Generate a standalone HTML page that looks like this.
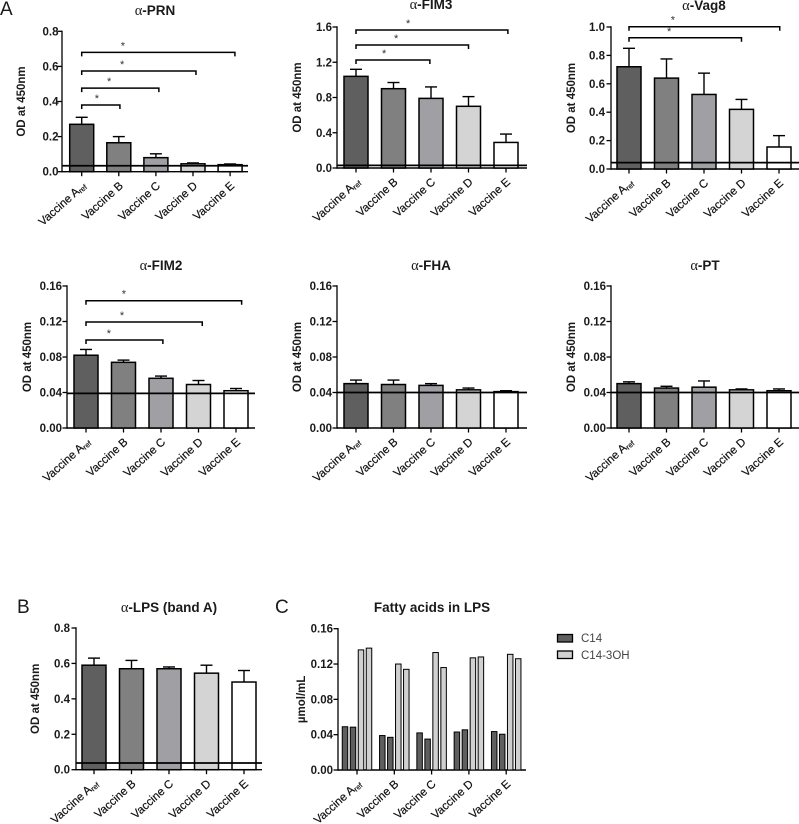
<!DOCTYPE html>
<html lang="en">
<head>
<meta charset="utf-8">
<title>Vaccine antibody responses</title>
<style>
html,body{margin:0;padding:0;background:#fff;width:799px;height:824px;overflow:hidden}
svg{display:block}
text{font-family:"Liberation Sans",sans-serif;fill:#1a1a1a}
.tick{font-size:11.5px;font-weight:bold;text-anchor:end}
.ylab{font-size:11.5px;font-weight:bold;text-anchor:middle}
.xlab{font-size:11.5px;text-anchor:end;fill:#111;stroke:#111;stroke-width:.2px}
.title{font-size:13.5px;font-weight:bold;text-anchor:middle}
.alpha{font-family:"Liberation Serif",serif;font-weight:normal;font-size:14.5px}
.letter{font-size:19px}
.star{font-size:11px;text-anchor:middle;fill:#333}
.legend{font-size:11.5px;fill:#444}
</style>
</head>
<body>
<svg id="figure" width="799" height="824" viewBox="0 0 799 824" xmlns="http://www.w3.org/2000/svg">
<text class="letter" x="0" y="15">A</text>
<text class="letter" x="17" y="613">B</text>
<text class="letter" x="275" y="613">C</text>
<g>
<rect x="557.5" y="634.5" width="15" height="7.5" fill="#5f5f5f" stroke="#000" stroke-width="1.3"/>
<text class="legend" x="581" y="642">C14</text>
<rect x="557.5" y="651" width="15" height="7.5" fill="#d0d0d0" stroke="#000" stroke-width="1.3"/>
<text class="legend" x="581" y="659">C14-3OH</text>
</g>
</svg>
<script>
// ---- chart data ----
const categories = ["Vaccine A", "Vaccine B", "Vaccine C", "Vaccine D", "Vaccine E"];
const categorySubscripts = ["ref", "", "", "", ""];

const prnMeans = [0.27, 0.165, 0.08, 0.045, 0.04];
const prnErrors = [0.04, 0.035, 0.022, 0.005, 0.004];
const prnThreshold = 0.034;
const prnTicks = ["0.0", "0.2", "0.4", "0.6", "0.8"];
const prnBrackets = [[4.13, 0.68], [3.08, 0.574], [2.08, 0.476], [1.03, 0.38]];
const prnStars = [1.11, 1.09, 0.74, 0.41];

const fim3Means = [1.04, 0.9, 0.79, 0.7, 0.29];
const fim3Errors = [0.08, 0.07, 0.13, 0.11, 0.095];
const fim3Threshold = 0.03;
const fim3Ticks = ["0.0", "0.4", "0.8", "1.2", "1.6"];
const fim3Brackets = [[4.05, 1.566], [3.0, 1.396], [1.97, 1.226]];
const fim3Stars = [1.39, 1.07, 0.75];

const vag8Means = [0.72, 0.64, 0.525, 0.42, 0.155];
const vag8Errors = [0.13, 0.135, 0.15, 0.07, 0.08];
const vag8Threshold = 0.045;
const vag8Ticks = ["0.0", "0.2", "0.4", "0.6", "0.8", "1.0"];
const vag8Brackets = [[4.02, 1.002], [3.0, 0.924]];
const vag8Stars = [1.17, 1.07];

const fim2Means = [0.082, 0.074, 0.056, 0.049, 0.042];
const fim2Errors = [0.0065, 0.0025, 0.0025, 0.0045, 0.0025];
const fim2Threshold = 0.039;
const fim2Ticks = ["0.00", "0.04", "0.08", "0.12", "0.16"];
const fim2Brackets = [[4.15, 0.1434], [3.1, 0.1194], [2.05, 0.0991]];
const fim2Stars = [1.01, 0.96, 0.61];

const fhaMeans = [0.05, 0.049, 0.048, 0.043, 0.041];
const fhaErrors = [0.004, 0.005, 0.002, 0.002, 0.001];
const fhaThreshold = 0.04;

const ptMeans = [0.05, 0.045, 0.046, 0.043, 0.042];
const ptErrors = [0.002, 0.002, 0.007, 0.001, 0.002];
const ptThreshold = 0.04;

const lpsMeans = [0.59, 0.57, 0.57, 0.545, 0.495];
const lpsErrors = [0.04, 0.047, 0.01, 0.045, 0.065];
const lpsThreshold = 0.038;
const lpsTicks = ["0.0", "0.2", "0.4", "0.6", "0.8"];

const c14Replicate1 = [0.049, 0.039, 0.042, 0.043, 0.0435];
const c14Replicate2 = [0.0485, 0.037, 0.035, 0.0455, 0.0405];
const c143ohReplicate1 = [0.136, 0.12, 0.133, 0.127, 0.131];
const c143ohReplicate2 = [0.138, 0.114, 0.116, 0.128, 0.126];
const fattyTicks = ["0.00", "0.04", "0.08", "0.12", "0.16"];

const barFills = ["#5f5f5f", "#808080", "#a0a0a4", "#d4d4d4", "#ffffff"];

// ---- drawing helpers ----
const NS = "http://www.w3.org/2000/svg";
const figure = document.getElementById("figure");

function make(parent, tag) {
  const el = document.createElementNS(NS, tag);
  parent.appendChild(el);
  return el;
}
function drawLine(parent, x1, y1, x2, y2, width) {
  const l = make(parent, "line");
  l.setAttribute("x1", x1);
  l.setAttribute("y1", y1);
  l.setAttribute("x2", x2);
  l.setAttribute("y2", y2);
  l.setAttribute("stroke", "#000");
  l.setAttribute("stroke-width", width);
  return l;
}

function drawFrame(p, yMax, ticks, yLabel) {
  const g = make(figure, "g");
  
  
  const yScale = v => p.y0 - (v / yMax) * (p.y0 - p.yTop);
  const xScale = i => p.x0 + i * p.step;

  const title = make(g, "text");
  title.setAttribute("class", "title");
  title.setAttribute("x", p.titleX);
  title.setAttribute("y", p.titleY);
  
  
  if (p.alpha) {
    const a = make(title, "tspan");
    a.setAttribute("class", "alpha");
    a.textContent = "α";
  }
  const t = make(title, "tspan");
  t.textContent = p.title;

  const yl = make(g, "text");
  yl.setAttribute("class", "ylab");
  const ylY = (p.y0 + p.yTop) / 2;
  yl.setAttribute("transform", "translate(" + (p.axisX - p.yLabelGap) + "," + ylY + ") rotate(-90)");
  
  
  yl.textContent = yLabel;

  const yAxis = drawLine(g, p.axisX, p.yTop - 0.7, p.axisX, p.y0 + 0.7, 1.3);
  
  
  const xAxis = drawLine(g, p.axisX, p.y0, p.axisEnd, p.y0, 1.4);
  
  

  ticks.forEach((label, i) => {
    const value = (i / (ticks.length - 1)) * yMax;
    const y = yScale(value);
    const tk = drawLine(g, p.axisX - 4.5, y, p.axisX, y, 1.3);
    
    
    const tl = make(g, "text");
    tl.setAttribute("class", "tick");
    tl.setAttribute("x", p.axisX - p.tickGap);
    tl.setAttribute("y", y + 4);
    
    
    tl.textContent = label;
  });

  categories.forEach((name, i) => {
    const x = xScale(i);
    const tk = drawLine(g, x, p.y0, x, p.y0 + 4.5, 1.3);
    
    
    const lb = make(g, "text");
    lb.setAttribute("class", "xlab");
    lb.setAttribute("transform", "translate(" + (x + 5) + "," + (p.y0 + 15) + ") rotate(-42)");
    
    
    lb.appendChild(document.createTextNode(name));
    if (categorySubscripts[i]) {
      const sub = make(lb, "tspan");
      sub.setAttribute("font-size", "7.5");
      sub.setAttribute("dy", "1.5");
      sub.textContent = categorySubscripts[i];
    }
  });
  return { g, xScale, yScale };
}

function drawBarPanel(p, yMax, ticks, means, errors, threshold, brackets, stars) {
  const { g, xScale, yScale } = drawFrame(p, yMax, ticks, "OD at 450nm");
  const bw = 24;
  means.forEach((m, i) => {
    const x = xScale(i);
    const top = yScale(m + errors[i]);
    const eb = drawLine(g, x, yScale(m), x, top, 1.4);
    
    
    const cap = drawLine(g, x - 6, top, x + 6, top, 1.4);
    
    
    const r = make(g, "rect");
    r.setAttribute("x", x - bw / 2);
    r.setAttribute("y", yScale(m));
    r.setAttribute("width", bw);
    r.setAttribute("height", p.y0 - yScale(m));
    r.setAttribute("fill", barFills[i]);
    r.setAttribute("stroke", "#000");
    r.setAttribute("stroke-width", "1.5");
    
    
  });
  const th = drawLine(g, p.axisX, yScale(threshold), p.axisEnd, yScale(threshold), 1.8);
  
  

  (brackets || []).forEach((b, i) => {
    const x1 = xScale(0);
    const x2 = xScale(b[0]);
    const y = yScale(b[1]);
    const br = make(g, "path");
    br.setAttribute("d", "M" + x1 + " " + (y + 4) + "V" + y + "H" + x2 + "V" + (y + 4));
    br.setAttribute("fill", "none");
    br.setAttribute("stroke", "#000");
    br.setAttribute("stroke-width", "1.5");
    
    
    const s = make(g, "text");
    s.setAttribute("class", "star");
    s.setAttribute("x", xScale(stars[i]));
    s.setAttribute("y", y - 3);
    
    
    s.textContent = "*";
  });
}

function drawFattyPanel(p, yMax, ticks) {
  const { g, xScale, yScale } = drawFrame(p, yMax, ticks, "µmol/mL");
  const series = [c14Replicate1, c14Replicate2, c143ohReplicate1, c143ohReplicate2];
  const fills = ["#5f5f5f", "#5f5f5f", "#d0d0d0", "#d0d0d0"];
  categories.forEach((name, i) => {
    series.forEach((vals, k) => {
      const x = xScale(i) + (k - 1.5) * 8;
      const r = make(g, "rect");
      r.setAttribute("x", x - 2.75);
      r.setAttribute("y", yScale(vals[i]));
      r.setAttribute("width", 5.5);
      r.setAttribute("height", p.y0 - yScale(vals[i]));
      r.setAttribute("fill", fills[k]);
      r.setAttribute("stroke", "#000");
      r.setAttribute("stroke-width", "1");
      
      
    });
  });
}

// ---- panels ----
drawBarPanel({id:"prn",title:"-PRN",alpha:true,titleX:155,titleY:15,axisX:62,axisEnd:248,x0:81.7,step:37.1,y0:171.7,yTop:31.3,yLabelGap:37,tickGap:3.5},
  0.8, prnTicks, prnMeans, prnErrors, prnThreshold, prnBrackets, prnStars);
drawBarPanel({id:"fim3",title:"-FIM3",alpha:true,titleX:431,titleY:9,axisX:337,axisEnd:527,x0:356,step:37.5,y0:168,yTop:27,yLabelGap:36,tickGap:5},
  1.6, fim3Ticks, fim3Means, fim3Errors, fim3Threshold, fim3Brackets, fim3Stars);
drawBarPanel({id:"vag8",title:"-Vag8",alpha:true,titleX:704,titleY:10,axisX:611,axisEnd:799,x0:629,step:37.5,y0:169,yTop:27,yLabelGap:36,tickGap:6},
  1.0, vag8Ticks, vag8Means, vag8Errors, vag8Threshold, vag8Brackets, vag8Stars);
drawBarPanel({id:"fim2",title:"-FIM2",alpha:true,titleX:161,titleY:270,axisX:67,axisEnd:255,x0:86,step:37.5,y0:428,yTop:286,yLabelGap:36,tickGap:5},
  0.16, fim2Ticks, fim2Means, fim2Errors, fim2Threshold, fim2Brackets, fim2Stars);
drawBarPanel({id:"fha",title:"-FHA",alpha:true,titleX:431,titleY:270,axisX:337,axisEnd:527,x0:356,step:37.5,y0:428,yTop:286,yLabelGap:36,tickGap:5},
  0.16, fim2Ticks, fhaMeans, fhaErrors, fhaThreshold);
drawBarPanel({id:"pt",title:"-PT",alpha:true,titleX:705,titleY:270,axisX:611,axisEnd:799,x0:629,step:37.5,y0:428,yTop:286,yLabelGap:36,tickGap:5},
  0.16, fim2Ticks, ptMeans, ptErrors, ptThreshold);
drawBarPanel({id:"lps",title:"-LPS (band A)",alpha:true,titleX:169,titleY:612,axisX:76,axisEnd:262,x0:94,step:37.5,y0:769.7,yTop:628,yLabelGap:37,tickGap:6},
  0.8, lpsTicks, lpsMeans, lpsErrors, lpsThreshold);
drawFattyPanel({id:"fatty-acids",title:"Fatty acids in LPS",alpha:false,titleX:432,titleY:612,axisX:338,axisEnd:526,x0:357,step:37.3,y0:770,yTop:628.7,yLabelGap:33,tickGap:5},
  0.16, fattyTicks);
</script>
</body>
</html>
